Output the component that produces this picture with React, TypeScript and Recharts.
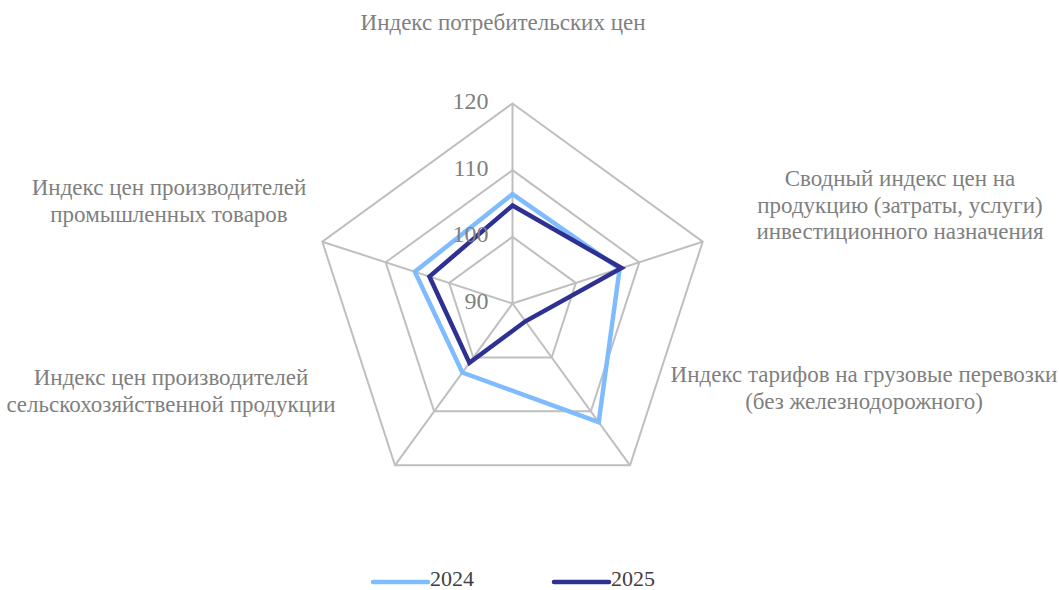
import React from 'react';
import { RadarChart, Radar, PolarGrid, PolarAngleAxis, PolarRadiusAxis, Legend } from 'recharts';

// categories (label lines) and index values
const categories = [
  'Индекс потребительских цен',
  'Сводный индекс цен на продукцию (затраты, услуги) инвестиционного назначения',
  'Индекс тарифов на грузовые перевозки (без железнодорожного)',
  'Индекс цен производителей сельскохозяйственной продукции',
  'Индекс цен производителей промышленных товаров',
];
const categoryLines = [
  ['Индекс потребительских цен'],
  ['Сводный индекс цен на', 'продукцию (затраты, услуги)', 'инвестиционного назначения'],
  ['Индекс тарифов на грузовые перевозки', '(без железнодорожного)'],
  ['Индекс цен производителей', 'сельскохозяйственной продукции'],
  ['Индекс цен производителей', 'промышленных товаров'],
];
const values2024 = [106.4, 106.9, 112.0, 102.8, 105.4];
const values2025 = [104.7, 107.2, 93.3, 101.0, 103.1];
const radiusTicks = [90, 100, 110, 120];

const series = [
  { key: 'y2024', name: '2024', color: '#7fbcff' },
  { key: 'y2025', name: '2025', color: '#2e3192' },
];

const data = categories.map((c, i) => ({
  category: c,
  y2024: values2024[i],
  y2025: values2025[i],
}));

const FONT = 'Liberation Serif, Times New Roman, serif';
const CX = 512.5;
const CY = 303.5;

// label placement around the pentagon (centre x, first line middle y)
const labelPos = [
  { x: 503, y: 25 },
  { x: 900, y: 181 },
  { x: 864, y: 377 },
  { x: 171, y: 380 },
  { x: 169, y: 190 },
];

const AngleTick = (props: any) => {
  const idx = props.index ?? categories.indexOf(props.payload.value);
  const pos = labelPos[idx];
  const lines = categoryLines[idx];
  return (
    <g>
      {lines.map((l, i) => (
        <text
          key={i}
          x={pos.x}
          y={pos.y + i * 26.5}
          textAnchor="middle"
          dominantBaseline="middle"
          fill="#7f7f7f"
          fontFamily={FONT}
          fontSize={23}
        >
          {l}
        </text>
      ))}
    </g>
  );
};

const RadiusTick = (props: any) => {
  const { x, y, payload } = props;
  return (
    <text x={x - 24} y={y} textAnchor="end" dominantBaseline="middle" fill="#7f7f7f" fontFamily={FONT} fontSize={24}>
      {payload.value}
    </text>
  );
};

const LegendContent = () => (
  <svg width={1059} height={30} style={{ display: 'block' }}>
    {series.map((s, i) => {
      const x0 = 373 + i * 181;
      return (
        <g key={s.key}>
          <line x1={x0} y1={15} x2={x0 + 55} y2={15} stroke={s.color} strokeWidth={4.5} strokeLinecap="round" />
          <text x={x0 + 57} y={14} dominantBaseline="middle" fill="#404040" fontFamily={FONT} fontSize={22}>
            {s.name}
          </text>
        </g>
      );
    })}
  </svg>
);

const App: React.FC = () => {
  return (
    <div style={{ position: 'absolute', left: 0, top: 0, width: 1059, height: 590, background: '#fff', fontFamily: FONT }}>
      <RadarChart width={1059} height={590} data={data} cx={CX} cy={CY} outerRadius={200} margin={{ top: 0, right: 0, bottom: 0, left: 0 }}>
        <PolarGrid gridType="polygon" stroke="#bfbfbf" strokeWidth={2} />
        <PolarAngleAxis dataKey="category" tick={<AngleTick />} tickLine={false} axisLine={false} />
        <PolarRadiusAxis
          angle={90}
          domain={[radiusTicks[0], radiusTicks[radiusTicks.length - 1]]}
          tickCount={radiusTicks.length}
          axisLine={false}
          tickLine={false}
          tick={<RadiusTick />}
        />
        {series.map((s) => (
          <Radar
            key={s.key}
            dataKey={s.key}
            name={s.name}
            stroke={s.color}
            strokeWidth={4.5}
            fill="none"
            fillOpacity={0}
            dot={false}
            isAnimationActive={false}
          />
        ))}
        <Legend content={<LegendContent />} wrapperStyle={{ position: 'absolute', left: 0, top: 567, width: 1059, height: 30 }} />
      </RadarChart>
    </div>
  );
};

export default App;
